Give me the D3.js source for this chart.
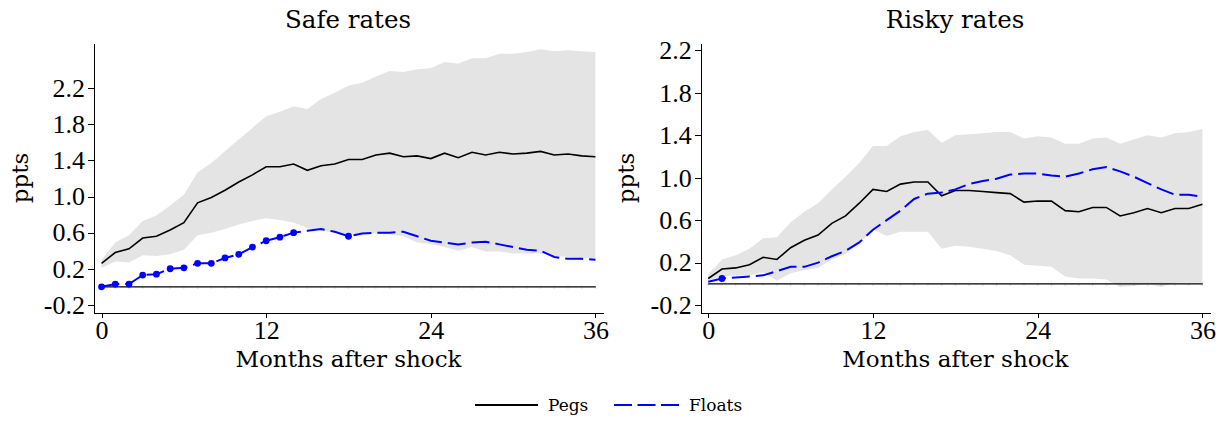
<!DOCTYPE html>
<html>
<head>
<meta charset="utf-8">
<script src="https://cdnjs.cloudflare.com/ajax/libs/d3/7.8.5/d3.min.js"></script>
<style>
  body { margin: 0; background: #fff; }
  .axis path, .axis line { stroke: #000; stroke-width: 1; shape-rendering: crispEdges; }
  .axis text { font-family: "Liberation Serif", serif; font-size: 26px; fill: #000; }
  .label { font-family: "DejaVu Serif", serif; fill: #000; }
</style>
</head>
<body>
<script>
// months after shock
var months = d3.range(0, 37);
var yTicks = [-0.2, 0.2, 0.6, 1.0, 1.4, 1.8, 2.2];
var xTicks = [0, 12, 24, 36];

// safe rates
var safePegs = [0.26, 0.38, 0.42, 0.54, 0.56, 0.63, 0.71, 0.93, 0.99, 1.07, 1.16, 1.24, 1.33, 1.33, 1.36, 1.29, 1.34, 1.36, 1.41, 1.41, 1.46, 1.48, 1.44, 1.45, 1.42, 1.48, 1.43, 1.49, 1.46, 1.49, 1.47, 1.48, 1.50, 1.46, 1.47, 1.45, 1.44];
var safeHi = [0.30, 0.49, 0.57, 0.73, 0.79, 0.90, 1.02, 1.27, 1.37, 1.50, 1.63, 1.76, 1.89, 1.94, 2.00, 1.97, 2.08, 2.15, 2.23, 2.26, 2.33, 2.39, 2.38, 2.41, 2.42, 2.49, 2.47, 2.53, 2.53, 2.58, 2.58, 2.60, 2.63, 2.61, 2.62, 2.61, 2.60];
var safeLo = [0.21, 0.28, 0.27, 0.35, 0.34, 0.36, 0.41, 0.57, 0.60, 0.64, 0.69, 0.73, 0.76, 0.74, 0.71, 0.65, 0.62, 0.60, 0.58, 0.59, 0.59, 0.58, 0.56, 0.49, 0.47, 0.44, 0.40, 0.44, 0.39, 0.39, 0.37, 0.37, 0.37, 0.34, 0.33, 0.32, 0.31];
var safeFloats = [0.00, 0.03, 0.03, 0.13, 0.14, 0.20, 0.21, 0.26, 0.26, 0.32, 0.36, 0.44, 0.51, 0.55, 0.60, 0.62, 0.64, 0.61, 0.56, 0.59, 0.60, 0.60, 0.61, 0.56, 0.51, 0.49, 0.47, 0.49, 0.50, 0.47, 0.44, 0.41, 0.40, 0.33, 0.31, 0.31, 0.30];
var safeDots = [0, 1, 2, 3, 4, 5, 6, 7, 8, 9, 10, 11, 12, 13, 14, 18];

// risky rates
var riskyPegs = [0.05, 0.14, 0.15, 0.18, 0.25, 0.23, 0.34, 0.41, 0.46, 0.57, 0.64, 0.76, 0.89, 0.87, 0.94, 0.96, 0.96, 0.83, 0.88, 0.88, 0.87, 0.86, 0.85, 0.77, 0.78, 0.78, 0.69, 0.68, 0.72, 0.72, 0.64, 0.67, 0.71, 0.67, 0.71, 0.71, 0.75];
var riskyHi = [0.09, 0.23, 0.27, 0.33, 0.43, 0.44, 0.58, 0.68, 0.76, 0.89, 1.01, 1.14, 1.30, 1.30, 1.39, 1.43, 1.45, 1.33, 1.40, 1.41, 1.42, 1.43, 1.43, 1.37, 1.39, 1.38, 1.32, 1.32, 1.37, 1.38, 1.32, 1.36, 1.40, 1.38, 1.42, 1.43, 1.46];
var riskyLo = [0.03, 0.07, 0.08, 0.08, 0.11, 0.03, 0.10, 0.13, 0.15, 0.23, 0.28, 0.38, 0.51, 0.45, 0.49, 0.49, 0.49, 0.33, 0.36, 0.35, 0.33, 0.31, 0.27, 0.18, 0.17, 0.16, 0.07, 0.05, 0.05, 0.04, -0.03, -0.02, 0.00, -0.03, 0.01, 0.01, 0.01];
var riskyFloats = [0.02, 0.05, 0.06, 0.07, 0.08, 0.12, 0.16, 0.16, 0.20, 0.26, 0.31, 0.39, 0.51, 0.60, 0.69, 0.80, 0.85, 0.86, 0.89, 0.94, 0.97, 0.99, 1.03, 1.04, 1.04, 1.02, 1.01, 1.04, 1.08, 1.10, 1.06, 1.01, 0.95, 0.89, 0.84, 0.84, 0.82];
var riskyDots = [1];

var svg = d3.select("body").append("svg")
    .attr("width", 1225)
    .attr("height", 422);

var fmt = function(d) { return d3.format(".1f")(d).replace("\u2212", "-"); };

function panel(title, pegs, lo, hi, floats, dots, xr, yd, titleX, pptsX) {
  var x = d3.scaleLinear().domain([-0.55, 36.55]).range(xr);
  var y = d3.scaleLinear().domain(yd).range([313, 43]);
  var g = svg.append("g");

  // confidence band
  g.append("path")
      .datum(months)
      .attr("fill", "#e4e4e4")
      .attr("d", d3.area()
          .x(function(d) { return x(d); })
          .y0(function(d) { return y(lo[d]); })
          .y1(function(d) { return y(hi[d]); }));

  // zero line with small month marks
  g.append("line")
      .attr("x1", x(0)).attr("x2", x(36))
      .attr("y1", y(0)).attr("y2", y(0))
      .attr("stroke", "#000").attr("stroke-width", 1.2);
  g.selectAll(".mk").data(months).enter().append("line")
      .attr("x1", function(d) { return x(d); })
      .attr("x2", function(d) { return x(d); })
      .attr("y1", y(0) - 1).attr("y2", y(0) + 1.5)
      .attr("stroke", "#555").attr("stroke-width", 0.6);

  var line = function(arr) {
    return d3.line()
        .x(function(d) { return x(d); })
        .y(function(d) { return y(arr[d]); });
  };

  g.append("path").datum(months)
      .attr("fill", "none").attr("stroke", "#000").attr("stroke-width", 1.6)
      .attr("d", line(pegs));

  g.append("path").datum(months)
      .attr("fill", "none").attr("stroke", "#0000ff").attr("stroke-width", 2)
      .attr("stroke-dasharray", "18,6")
      .attr("d", line(floats));

  g.selectAll(".dot").data(dots).enter().append("circle")
      .attr("cx", function(d) { return x(d); })
      .attr("cy", function(d) { return y(floats[d]); })
      .attr("r", 3.4)
      .attr("fill", "#0000ff");

  // axes
  g.append("g").attr("class", "axis")
      .attr("transform", "translate(0,313)")
      .call(d3.axisBottom(x).tickValues(xTicks).tickSize(5).tickSizeOuter(0).tickPadding(3));

  g.append("g").attr("class", "axis")
      .attr("transform", "translate(" + xr[0] + ",0)")
      .call(d3.axisLeft(y).tickValues(yTicks).tickSize(6).tickSizeOuter(0).tickPadding(3).tickFormat(fmt));

  g.append("text").attr("class", "label")
      .attr("x", titleX).attr("y", 28)
      .attr("text-anchor", "middle")
      .style("font-size", "24.5px")
      .text(title);

  g.append("text").attr("class", "label")
      .attr("x", (xr[0] + xr[1]) / 2).attr("y", 367)
      .attr("text-anchor", "middle")
      .style("font-size", "23px")
      .text("Months after shock");

  g.append("text").attr("class", "label")
      .attr("transform", "translate(" + pptsX + ",178) rotate(-90)")
      .attr("text-anchor", "middle")
      .style("font-size", "23px")
      .text("ppts");
}

panel("Safe rates", safePegs, safeLo, safeHi, safeFloats, safeDots, [94, 603], [-0.29, 2.70], 348, 28);
panel("Risky rates", riskyPegs, riskyLo, riskyHi, riskyFloats, riskyDots, [700.7, 1210], [-0.275, 2.27], 955, 634);

// legend
var leg = svg.append("g");
leg.append("line").attr("x1", 475).attr("x2", 538).attr("y1", 405).attr("y2", 405)
    .attr("stroke", "#000").attr("stroke-width", 2);
leg.append("text").attr("class", "label").attr("x", 548).attr("y", 411)
    .style("font-size", "17px").text("Pegs");
leg.append("line").attr("x1", 614).attr("x2", 679).attr("y1", 405).attr("y2", 405)
    .attr("stroke", "#0000ff").attr("stroke-width", 2).attr("stroke-dasharray", "18,5.5");
leg.append("text").attr("class", "label").attr("x", 689).attr("y", 411)
    .style("font-size", "17px").text("Floats");
</script>
</body>
</html>
